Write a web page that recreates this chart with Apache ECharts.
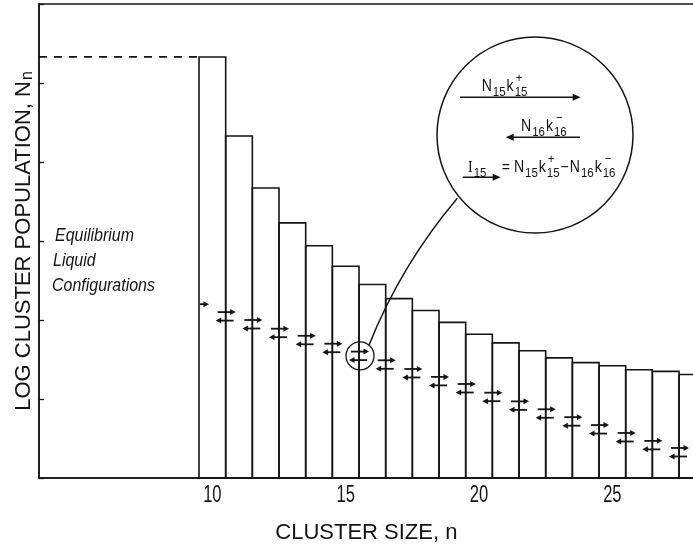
<!DOCTYPE html>
<html>
<head>
<meta charset="utf-8">
<script src="https://cdn.jsdelivr.net/npm/echarts@6/dist/echarts.min.js"></script>
<style>
  html, body { margin: 0; padding: 0; background: #fff; }
  #chart { width: 693px; height: 548px; }
</style>
</head>
<body>
<div id="chart"></div>
<script>
// Cluster size classes and the log population of each class
const clusterSizes  = [10, 11, 12, 13, 14, 15, 16, 17, 18, 19, 20, 21, 22, 23, 24, 25, 26, 27, 28];
const logPopulation = [5.33, 4.33, 3.67, 3.23, 2.94, 2.68, 2.45, 2.27, 2.12, 1.97, 1.82, 1.71, 1.61, 1.52, 1.46, 1.42, 1.37, 1.35, 1.31];

// Population level of the equilibrium liquid configurations
const equilibriumLevel = 5.33;

// Flux arrows between neighbouring classes: boundary position, level, kind
const fluxBoundaries = [9.5, 10.5, 11.5, 12.5, 13.5, 14.5, 15.5, 16.5, 17.5, 18.5, 19.5, 20.5, 21.5, 22.5, 23.5, 24.5, 25.5, 26.5, 27.5];
const fluxLevels     = [2.20, 2.10, 2.00, 1.89, 1.80, 1.70, 1.60, 1.49, 1.38, 1.28, 1.19, 1.08, 0.97, 0.87, 0.77, 0.67, 0.57, 0.47, 0.38];
const fluxKinds      = ['in', 'pair', 'pair', 'pair', 'pair', 'pair', 'circled', 'pair', 'pair', 'pair', 'pair', 'pair', 'pair', 'pair', 'pair', 'pair', 'pair', 'pair', 'pair'];

// Labelled cluster sizes on the horizontal axis
const sizeTickLabels = [10, 15, 20, 25];

const INK = '#141414';
const SANS = "'Liberation Sans', Arial, sans-serif";
const SERIF = "'Liberation Serif', 'DejaVu Serif', serif";

// Magnified view of the flux across one boundary
const INSET = { cx: 535, cy: 135, r: 98 };
const LEADER_END = [457.3, 198.3];
const LEADER_CTRL = [401, 265];

const chart = echarts.init(document.getElementById('chart'), null, { renderer: 'canvas' });

function arrowShapes(x0, x1, y, head, half, lw) {
  const dir = x1 > x0 ? 1 : -1;
  return [
    { type: 'line', shape: { x1: x0, y1: y, x2: x1 - dir * head * 0.6, y2: y },
      style: { stroke: INK, lineWidth: lw } },
    { type: 'polygon', shape: { points: [[x1, y], [x1 - dir * head, y - half], [x1 - dir * head, y + half]] },
      style: { fill: INK } }
  ];
}

function renderBar(params, api) {
  const n = api.value(0), v = api.value(1);
  const a = api.coord([n - 0.5, v]);
  const b = api.coord([n + 0.5, 0]);
  return {
    type: 'rect',
    shape: { x: a[0], y: a[1], width: b[0] - a[0], height: b[1] - a[1] },
    style: { fill: 'none', stroke: INK, lineWidth: 1.6 }
  };
}

function renderFlux(params, api) {
  const kind = fluxKinds[params.dataIndex];
  const p = api.coord([api.value(0), api.value(1)]);
  const gap = 8.5;
  let children = [];
  if (kind === 'in') {
    children = arrowShapes(p[0] + 1, p[0] + 10, p[1], 5.5, 3, 1.8);
  } else {
    children = children.concat(arrowShapes(p[0] - 8, p[0] + 10, p[1], 5.5, 3, 1.8));
    children = children.concat(arrowShapes(p[0] + 8, p[0] - 10, p[1] + gap, 5.5, 3, 1.8));
    if (kind === 'circled') {
      const cx = p[0] + 1, cy = p[1] + gap / 2, r = 14;
      const ang = -50 * Math.PI / 180;
      children.push({ type: 'circle', shape: { cx: cx, cy: cy, r: r },
        style: { fill: 'none', stroke: INK, lineWidth: 1.3 } });
      children.push({ type: 'bezierCurve',
        shape: { x1: cx + r * Math.cos(ang), y1: cy + r * Math.sin(ang),
                 cpx1: LEADER_CTRL[0], cpy1: LEADER_CTRL[1],
                 x2: LEADER_END[0], y2: LEADER_END[1] },
        style: { fill: 'none', stroke: INK, lineWidth: 1.4 } });
    }
  }
  return { type: 'group', children: children };
}

// Size labels under the bars, placed through the x scale
function renderSizeLabel(params, api) {
  const p = api.coord([api.value(0), 0]);
  return {
    type: 'text', x: p[0], y: p[1] + 17.7, scaleX: 0.72,
    style: { text: String(api.value(0)), fill: INK, fontSize: 23, fontFamily: SANS,
             align: 'center', verticalAlign: 'middle' }
  };
}

// Text layout for the rate expressions inside the inset
const measureCtx = document.createElement('canvas').getContext('2d');
function textWidth(s, size, family, italic) {
  measureCtx.font = (italic ? 'italic ' : '') + size + 'px ' + family;
  return measureCtx.measureText(s).width;
}
function textAt(s, x, baseline, size, family, italic, sx) {
  return {
    type: 'text', x: x, y: baseline - 0.347 * size, scaleX: sx || 1,
    style: { text: s, fill: INK, fontSize: size, fontFamily: family, fontStyle: italic ? 'italic' : 'normal',
             align: 'left', verticalAlign: 'middle' }
  };
}
const MAIN_SIZE = 16, SUB_SIZE = 13, SX = 0.88;
function formula(tokens, x, baseline) {
  const out = [];
  let cx = x;
  tokens.forEach(function (t) {
    if (t.m !== undefined) {
      const fam = t.serif ? SERIF : SANS;
      out.push(textAt(t.m, cx, baseline, MAIN_SIZE, fam, false, SX));
      cx += textWidth(t.m, MAIN_SIZE, fam) * SX + (t.after || 1);
    } else {
      let w = 0;
      if (t.sub) {
        out.push(textAt(t.sub, cx, baseline + 5, SUB_SIZE, SANS, false, SX));
        w = Math.max(w, textWidth(t.sub, SUB_SIZE, SANS) * SX);
      }
      if (t.sup) {
        out.push(textAt(t.sup, cx + (t.supShift || 0), baseline - 9, SUB_SIZE, SANS, false, SX));
        w = Math.max(w, textWidth(t.sup, SUB_SIZE, SANS) * SX);
      }
      cx += w + (t.after || 1);
    }
  });
  return out;
}

const insetElements = [
  { type: 'circle', shape: { cx: INSET.cx, cy: INSET.cy, r: INSET.r },
    style: { fill: '#fff', stroke: INK, lineWidth: 1.5 } }
]
  .concat(formula([{ m: 'N' }, { sub: '15' }, { m: 'k' }, { sup: '+', sub: '15', supShift: 1 }], 481.7, 91.7))
  .concat(arrowShapes(460, 580.7, 97.3, 8, 3.5, 1.6))
  .concat(formula([{ m: 'N' }, { sub: '16' }, { m: 'k' }, { sup: '\u2212', sub: '16', supShift: 2 }], 521, 131.7))
  .concat(arrowShapes(580, 505.7, 137.3, 8, 3.5, 1.6))
  .concat(formula([{ m: 'I', serif: true }, { sub: '15' }], 468, 173))
  .concat(arrowShapes(462.7, 500.7, 177.3, 8, 3.5, 1.6))
  .concat(formula([{ m: '=', after: 4 }, { m: 'N' }, { sub: '15' }, { m: 'k' }, { sup: '+', sub: '15', supShift: 1 },
                   { m: '\u2212' }, { m: 'N' }, { sub: '16' }, { m: 'k' }, { sup: '\u2212', sub: '16', supShift: 2 }], 501.7, 173.3));

const liquidLabel = [
  { t: 'Equilibrium', x: 55, y: 242.7 },
  { t: 'Liquid', x: 53, y: 267 },
  { t: 'Configurations', x: 52, y: 292 }
].map(function (l) { return textAt(l.t, l.x, l.y, 19, SANS, true, 0.84); });

chart.setOption({
  animation: false,
  backgroundColor: '#fff',
  grid: {
    left: 39, top: 4, bottom: 70, right: -12.7,
    outerBoundsMode: 'none', containLabel: false,
    show: true, borderColor: INK, borderWidth: 1.5, backgroundColor: 'transparent'
  },
  xAxis: {
    type: 'value', min: 3.5, max: 28.5, interval: 0.5,
    axisLine: { show: true, lineStyle: { color: INK, width: 1.5 } },
    axisTick: { show: false },
    splitLine: { show: false },
    axisLabel: { show: false },
    name: 'CLUSTER SIZE, n',
    nameLocation: 'middle', nameGap: 44,
    nameTextStyle: { color: INK, fontSize: 22, fontFamily: SANS, padding: [0, 12, 0, 0] }
  },
  yAxis: {
    type: 'value', min: 0, max: 6, interval: 1,
    axisLine: { show: true, lineStyle: { color: INK, width: 1.5 } },
    axisTick: { show: true, inside: true, length: 5, lineStyle: { color: INK, width: 1.3 } },
    splitLine: { show: false },
    axisLabel: { show: false },
    name: '{a|LOG CLUSTER POPULATION, N}{b|n}',
    nameLocation: 'middle', nameGap: 4,
    nameTextStyle: {
      color: INK,
      rich: {
        a: { fontSize: 22, fontFamily: SANS, color: INK, lineHeight: 22, verticalAlign: 'top' },
        b: { fontSize: 16, fontFamily: SANS, color: INK, lineHeight: 22, verticalAlign: 'top', padding: [7, 0, 0, 1] }
      }
    }
  },
  graphic: liquidLabel.concat(insetElements),
  series: [
    {
      name: 'population', type: 'custom',
      data: clusterSizes.map(function (n, i) { return [n, logPopulation[i]]; }),
      renderItem: renderBar, z: 2
    },
    {
      name: 'equilibrium', type: 'line', symbol: 'none',
      data: [[3.5, equilibriumLevel], [9.5, equilibriumLevel]],
      lineStyle: { color: INK, width: 1.8, type: [8, 7] }, z: 2
    },
    {
      name: 'flux', type: 'custom',
      data: fluxBoundaries.map(function (b, i) { return [b, fluxLevels[i]]; }),
      renderItem: renderFlux, z: 3
    },
    {
      name: 'sizeLabels', type: 'custom',
      data: sizeTickLabels.map(function (v) { return [v]; }),
      renderItem: renderSizeLabel, z: 3, silent: true
    }
  ]
});
</script>
</body>
</html>
